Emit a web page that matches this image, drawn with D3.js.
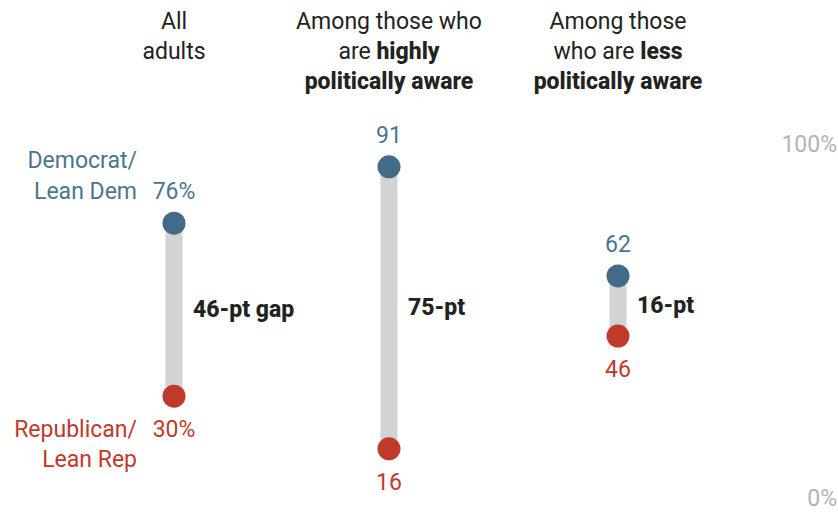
<!DOCTYPE html>
<html>
<head>
<meta charset="utf-8">
<script src="https://cdn.jsdelivr.net/npm/d3@7"></script>
<style>
  html, body { margin: 0; padding: 0; background: #fff; }
  svg { display: block; font-family: Roboto, "Noto Sans", Arial, sans-serif; }
</style>
</head>
<body>
<svg id="chart" width="838" height="512"></svg>
<script>
// Share by party, overall and by political awareness
const groups = ["all", "high", "less"];
const demValues = [76, 91, 62];
const repValues = [30, 16, 46];
const demLabels = ["76%", "91", "62"];
const repLabels = ["30%", "16", "46"];
const gapLabels = ["46-pt gap", "75-pt", "16-pt"];
// Column headers: each line is a list of [text, bold] runs
const headers = [
  [[["All", false]], [["adults", false]]],
  [[["Among those who", false]], [["are ", false], ["highly", true]], [["politically aware", true]]],
  [[["Among those", false]], [["who are ", false], ["less", true]], [["politically aware", true]]]
];
const axisTicks = [100, 0];
const axisTickLabels = ["100%", "0%"];

const BLUE = "#436a86";
const BLUE_TEXT = "#4a7590";
const RED = "#bf3a2b";
const BAR = "#d2d3d5";
const FS = 23;

const svg = d3.select("#chart");

const xPos = d3.scaleOrdinal().domain(groups).range([174, 389, 618]);
const y = d3.scaleLinear().domain([0, 100]).range([509, 133]);

const data = groups.map((g, i) => ({
  g, dem: demValues[i], rep: repValues[i],
  demLabel: demLabels[i], repLabel: repLabels[i], gap: gapLabels[i]
}));

// Headers
const hdr = svg.append("g").attr("fill", "#222").attr("font-size", FS).attr("text-anchor", "middle");
headers.forEach((lines, i) => {
  lines.forEach((runs, j) => {
    const t = hdr.append("text").attr("x", xPos(groups[i])).attr("y", 29 + j * 30);
    runs.forEach(([txt, bold]) => {
      t.append("tspan").text(txt).attr("font-weight", bold ? 800 : 400);
    });
  });
});

// Gap bars
svg.append("g").selectAll("line").data(data).join("line")
  .attr("x1", d => xPos(d.g)).attr("x2", d => xPos(d.g))
  .attr("y1", d => y(d.dem)).attr("y2", d => y(d.rep))
  .attr("stroke", BAR).attr("stroke-width", 17);

// Dots
svg.append("g").selectAll("circle.dem").data(data).join("circle")
  .attr("class", "dem").attr("cx", d => xPos(d.g)).attr("cy", d => y(d.dem))
  .attr("r", 11.5).attr("fill", BLUE);
svg.append("g").selectAll("circle.rep").data(data).join("circle")
  .attr("class", "rep").attr("cx", d => xPos(d.g)).attr("cy", d => y(d.rep))
  .attr("r", 11.5).attr("fill", RED);

// Value labels
svg.append("g").attr("font-size", FS).attr("text-anchor", "middle").attr("fill", BLUE_TEXT)
  .selectAll("text").data(data).join("text")
  .attr("x", d => xPos(d.g)).attr("y", d => y(d.dem) - 24)
  .text(d => d.demLabel);
svg.append("g").attr("font-size", FS).attr("text-anchor", "middle").attr("fill", RED)
  .selectAll("text").data(data).join("text")
  .attr("x", d => xPos(d.g)).attr("y", d => y(d.rep) + 41)
  .text(d => d.repLabel);

// Gap labels
svg.append("g").attr("font-size", FS).attr("font-weight", 800).attr("fill", "#222")
  .selectAll("text").data(data).join("text")
  .attr("x", d => xPos(d.g) + 19).attr("y", d => (y(d.dem) + y(d.rep)) / 2 + 7)
  .text(d => d.gap);

// Series names beside the first column
const first = data[0];
const nameX = xPos(first.g) - 37;
const dem = svg.append("text").attr("font-size", FS).attr("fill", BLUE_TEXT).attr("text-anchor", "end");
dem.append("tspan").attr("x", nameX).attr("y", y(first.dem) - 55).text("Democrat/");
dem.append("tspan").attr("x", nameX).attr("y", y(first.dem) - 24).text("Lean Dem");
const rep = svg.append("text").attr("font-size", FS).attr("fill", RED).attr("text-anchor", "end");
rep.append("tspan").attr("x", nameX).attr("y", y(first.rep) + 41).text("Republican/");
rep.append("tspan").attr("x", nameX).attr("y", y(first.rep) + 71).text("Lean Rep");

// Scale end labels
svg.append("g").attr("font-size", FS).attr("fill", "#b3b3b3").attr("text-anchor", "end")
  .selectAll("text").data(axisTicks).join("text")
  .attr("x", 837)
  .attr("y", d => d === 100 ? y(d) + 19 : y(d) - 3)
  .text((d, i) => axisTickLabels[i]);
</script>
</body>
</html>
